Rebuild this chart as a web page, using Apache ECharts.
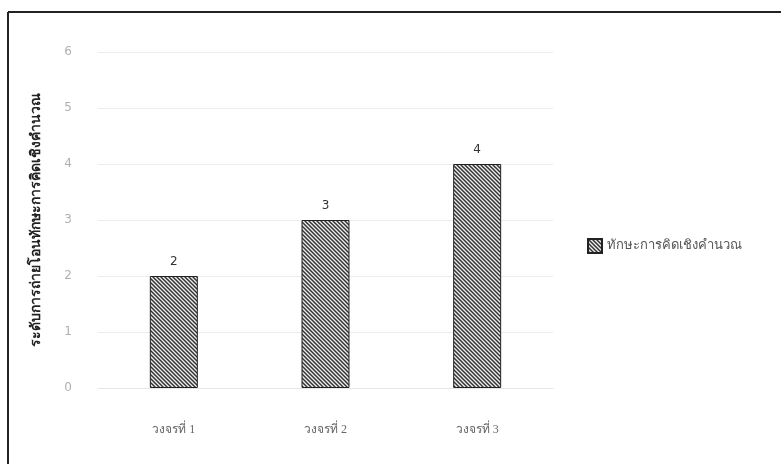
<!DOCTYPE html>
<html>
<head>
<meta charset="utf-8">
<script src="https://cdn.jsdelivr.net/npm/echarts@6/dist/echarts.min.js"></script>
<style>
  html, body { margin: 0; padding: 0; background: #fff; }
  #main { width: 781px; height: 464px; }
</style>
</head>
<body>
<div id="main"></div>
<script>
// data
var categories = ['วงจรที่ 1', 'วงจรที่ 2', 'วงจรที่ 3'];
var seriesName = 'ทักษะการคิดเชิงคำนวณ';
var values = [2, 3, 4];
var yTicks = { min: 0, max: 6, interval: 1 };
var yTitle = 'ระดับการถ่ายโอนทักษะการคิดเชิงคำนวณ';

// ลายเส้นทแยง
function hatch() {
    var c = document.createElement('canvas');
    c.width = 4; c.height = 4;
    var ctx = c.getContext('2d');
    ctx.fillStyle = '#eeeeee';
    ctx.fillRect(0, 0, 4, 4);
    ctx.strokeStyle = '#333';
    ctx.lineWidth = 1.5;
    ctx.beginPath();
    ctx.moveTo(-1, -1); ctx.lineTo(5, 5);
    ctx.moveTo(-1, 3); ctx.lineTo(1, 5);
    ctx.moveTo(3, -1); ctx.lineTo(5, 1);
    ctx.stroke();
    return c;
}

var pattern = { image: hatch(), repeat: 'repeat' };
var chart = echarts.init(document.getElementById('main'));

var option = {
    textStyle: { fontFamily: 'DejaVu Sans, Noto Sans, sans-serif' },
    animation: false,
    graphic: [
        { type: 'line', shape: { x1: 8, y1: 12, x2: 781, y2: 12 }, style: { stroke: '#222', lineWidth: 2 } },
        { type: 'line', shape: { x1: 8, y1: 12, x2: 8, y2: 464 }, style: { stroke: '#222', lineWidth: 2 } }
    ],
    grid: { left: 98, right: 228, top: 52, bottom: 76 },
    legend: {
        data: [{ name: seriesName, icon: 'rect' }],
        left: 582,
        top: 233,
        itemWidth: 14,
        itemHeight: 14,
        itemGap: 6,
        textStyle: { color: '#555', fontSize: 13 }
    },
    xAxis: {
        type: 'category',
        data: categories,
        axisLine: { show: true, lineStyle: { color: '#e6e6e6' } },
        axisTick: { show: false },
        axisLabel: { color: '#666', fontSize: 12, margin: 36, fontFamily: 'serif' }
    },
    yAxis: {
        type: 'value',
        min: yTicks.min,
        max: yTicks.max,
        interval: yTicks.interval,
        name: yTitle,
        nameLocation: 'middle',
        nameRotate: 90,
        nameGap: 55,
        nameTextStyle: { color: '#222', fontSize: 14, fontWeight: 'bold', fontFamily: 'serif' },
        axisLine: { show: false },
        axisTick: { show: false },
        axisLabel: { color: '#b0b0b0', fontSize: 12, margin: 26 },
        splitLine: { lineStyle: { color: '#ececec', width: 1 } }
    },
    series: [
        {
            name: seriesName,
            type: 'bar',
            data: values,
            barWidth: 48,
            itemStyle: { color: pattern, borderColor: '#222', borderWidth: 1 },
            label: { show: true, position: 'top', color: '#333', fontSize: 12, distance: 8 }
        }
    ]
};

chart.setOption(option);
</script>
</body>
</html>
